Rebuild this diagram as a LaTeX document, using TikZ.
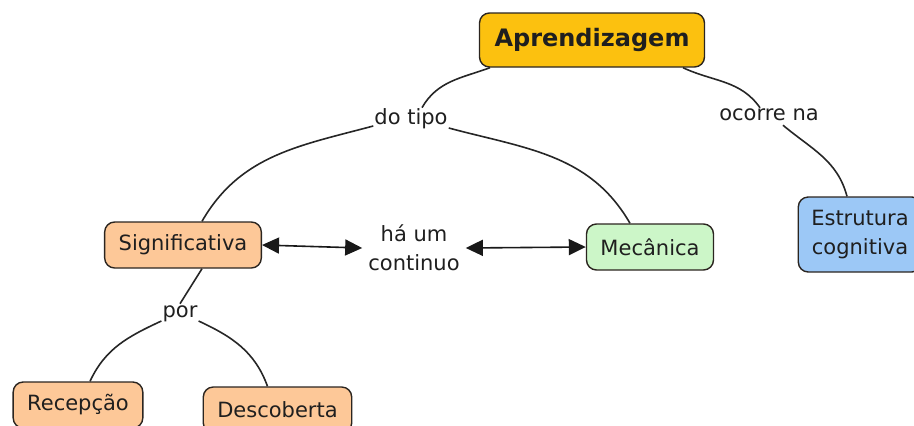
\documentclass[tikz,border=0pt]{standalone}
\usepackage{fontspec}
\setmainfont{DejaVu Sans}
\usetikzlibrary{arrows.meta}
\definecolor{ouro}{HTML}{FCC10F}
\definecolor{pessego}{HTML}{FDC898}
\definecolor{verde}{HTML}{CCF6C8}
\definecolor{azul}{HTML}{9CC8F6}
\definecolor{borda}{HTML}{2B2520}
\begin{document}
\begin{tikzpicture}[x=1pt,y=-1pt]
\tikzstyle{conceito}=[rectangle,rounded corners=10pt,draw=borda,line width=1.4pt,minimum height=46pt,inner xsep=14pt,text=black!88,font=\fontsize{21}{29}\selectfont,align=center]
\tikzstyle{frase}=[inner sep=1pt,text=black!88,font=\fontsize{21}{29}\selectfont,align=center]
\tikzstyle{liga}=[line width=1.6pt,draw=black!85]
\tikzstyle{seta}=[line width=1.6pt,draw=black!90,{Triangle[length=17pt,width=16pt]}-{Triangle[length=17pt,width=16pt]}]

\useasboundingbox (0,0) rectangle (914,426);

\node[conceito,fill=ouro,font=\fontsize{24}{29}\selectfont\bfseries,minimum height=54pt,inner xsep=15pt] (aprend) at (592,40) {Aprendizagem};
\node[conceito,fill=pessego] (signif) at (183,245) {Significativa};
\node[conceito,fill=verde] (mecan) at (650,247) {Mecânica};
\node[conceito,fill=azul,minimum height=75pt,inner xsep=13pt] (estrut) at (860,234.5) {Estrutura\\cognitiva};
\node[conceito,fill=pessego] (recep) at (78,405) {Recepção};
\node[conceito,fill=pessego] (descob) at (277.5,410) {Descoberta};

\node[frase] (tipo) at (411,119) {do tipo};
\node[frase] (ocorre) at (769,115) {ocorre na};
\node[frase] (por) at (180,314) {por};
\node[frase,inner xsep=6pt] (continuo) at (414,248) {há um\\continuo};

\draw[liga] ([xshift=-102pt]aprend.south) to[out=200,in=60] ([xshift=11pt]tipo.north);
\draw[liga] ([yshift=-7pt]tipo.west) to[out=195,in=60] ([xshift=19pt]signif.north);
\draw[liga] ([yshift=-9pt]tipo.east) to[out=-15,in=120] ([xshift=-20pt]mecan.north);
\draw[liga] ([xshift=91pt]aprend.south) to[out=-25,in=125] ([xshift=-9pt]ocorre.north);
\draw[liga] ([xshift=14pt,yshift=-3pt]ocorre.south) to[out=-40,in=105] ([xshift=-13pt]estrut.north);
\draw[liga] ([xshift=19pt]signif.south) -- ([yshift=1pt]por.north);
\draw[liga] ([yshift=-7pt]por.west) to[out=205,in=65] ([xshift=12pt]recep.north);
\draw[liga] ([yshift=-7pt]por.east) to[out=-25,in=110] ([xshift=-10pt]descob.north);

\draw[seta] (signif.east) -- (continuo.west);
\draw[seta] (continuo.east) -- (mecan.west);
\end{tikzpicture}
\end{document}
